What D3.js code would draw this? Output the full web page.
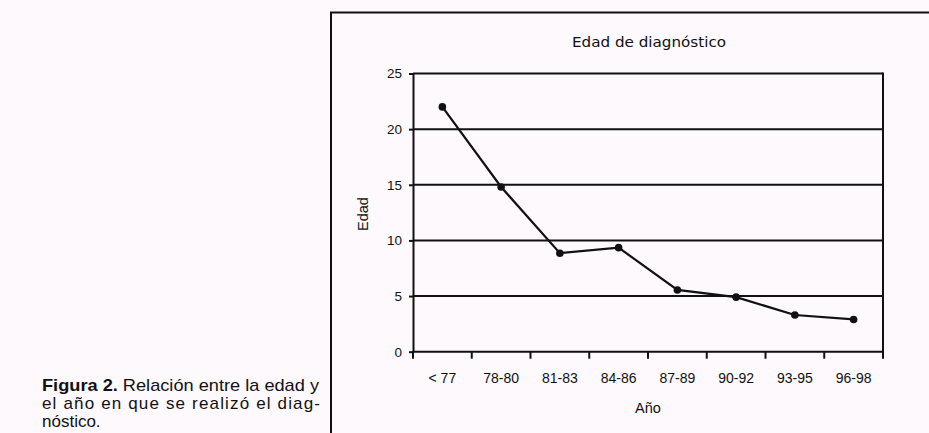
<!DOCTYPE html>
<html>
<head>
<meta charset="utf-8">
<script src="https://cdn.jsdelivr.net/npm/d3@7/dist/d3.min.js"></script>
<style>
  html, body { margin: 0; padding: 0; background: #fdf9fd; }
  svg { display: block; }
</style>
</head>
<body>
<svg id="chart" width="929" height="433"></svg>
<script>
const categories = ["< 77", "78-80", "81-83", "84-86", "87-89", "90-92", "93-95", "96-98"];
const edad = [22, 14.8, 8.85, 9.35, 5.55, 4.9, 3.3, 2.9];
const yTicks = [0, 5, 10, 15, 20, 25];
const title = "Edad de diagnóstico";
const xTitle = "Año";
const yTitle = "Edad";
const captionBold = "Figura 2.";
const captionLine1 = " Relación entre la edad y";
const captionLine2 = "el año en que se realizó el diag-";
const captionLine3 = "nóstico.";

const svg = d3.select("#chart");
const font = "'Liberation Sans', Arial, sans-serif";

// outer frame
svg.append("path")
  .attr("d", "M331,440 L331,12.5 L940,12.5")
  .attr("fill", "none").attr("stroke", "#111").attr("stroke-width", 2);

const pLeft = 413, pRight = 883, pTop = 73.5, pBottom = 351.7;
const x = d3.scaleBand().domain(categories).range([pLeft, pRight]).padding(0);
const y = d3.scaleLinear().domain([0, 25]).range([pBottom, pTop]);

const g = svg.append("g");

// gridlines
g.selectAll("line.grid").data(yTicks.filter(d => d > 0)).join("line")
  .attr("class", "grid")
  .attr("x1", pLeft).attr("x2", pRight)
  .attr("y1", d => y(d)).attr("y2", d => y(d))
  .attr("stroke", "#111").attr("stroke-width", 2);

// right border
g.append("line").attr("x1", pRight).attr("x2", pRight)
  .attr("y1", y(25) - 1).attr("y2", y(0))
  .attr("stroke", "#111").attr("stroke-width", 2);

// y axis
const yAxis = g.append("g").attr("transform", `translate(${pLeft},0)`)
  .call(d3.axisLeft(y).tickValues(yTicks).tickSize(4).tickPadding(7).tickSizeOuter(0));
yAxis.select(".domain").attr("stroke", "#111").attr("stroke-width", 2);
yAxis.selectAll(".tick line").attr("stroke", "#111").attr("stroke-width", 2);
yAxis.selectAll(".tick text").attr("font-family", font).attr("font-size", 13.5).attr("fill", "#111");

// x axis line
g.append("line").attr("x1", pLeft - 1).attr("x2", pRight + 1)
  .attr("y1", y(0)).attr("y2", y(0))
  .attr("stroke", "#111").attr("stroke-width", 2);

// x ticks at band boundaries
const boundaries = categories.map(c => x(c)).concat([x.range()[1]]);
g.selectAll("line.xtick").data(boundaries).join("line")
  .attr("class", "xtick")
  .attr("x1", d => d).attr("x2", d => d)
  .attr("y1", y(0)).attr("y2", y(0) + 7)
  .attr("stroke", "#111").attr("stroke-width", 2);

// x labels
g.selectAll("text.xlab").data(categories).join("text")
  .attr("class", "xlab")
  .attr("x", d => x(d) + x.bandwidth() / 2)
  .attr("y", 383)
  .attr("text-anchor", "middle")
  .attr("font-family", font).attr("font-size", 14)
  .attr("fill", "#111")
  .text(d => d);

// line
const line = d3.line()
  .x((d, i) => x(categories[i]) + x.bandwidth() / 2)
  .y(d => y(d));
g.append("path").datum(edad)
  .attr("d", line)
  .attr("fill", "none").attr("stroke", "#111").attr("stroke-width", 2.2);

g.selectAll("circle.pt").data(edad).join("circle")
  .attr("class", "pt")
  .attr("cx", (d, i) => x(categories[i]) + x.bandwidth() / 2)
  .attr("cy", d => y(d))
  .attr("r", 3.8)
  .attr("fill", "#111");

// titles
svg.append("text")
  .attr("x", 649).attr("y", 47)
  .attr("text-anchor", "middle")
  .attr("font-family", "'DejaVu Sans', Verdana, sans-serif").attr("font-size", 13.5)
  .attr("textLength", 154).attr("lengthAdjust", "spacingAndGlyphs")
  .attr("fill", "#111")
  .text(title);

svg.append("text")
  .attr("x", 648).attr("y", 413)
  .attr("text-anchor", "middle")
  .attr("font-family", font).attr("font-size", 14.5)
  .attr("fill", "#111")
  .text(xTitle);

svg.append("text")
  .attr("transform", "translate(368,214) rotate(-90)")
  .attr("text-anchor", "middle")
  .attr("font-family", font).attr("font-size", 14.5)
  .attr("fill", "#111")
  .text(yTitle);

// caption
const cap = svg.append("g").attr("font-family", font).attr("fill", "#111");
const l1 = cap.append("text").attr("x", 42).attr("y", 391).attr("font-size", 17)
  .attr("textLength", 277).attr("lengthAdjust", "spacingAndGlyphs");
l1.append("tspan").attr("font-weight", "bold").text(captionBold);
l1.append("tspan").text(captionLine1);
cap.append("text").attr("x", 42).attr("y", 409).attr("font-size", 17)
  .attr("textLength", 278).attr("lengthAdjust", "spacing")
  .text(captionLine2);
cap.append("text").attr("x", 42).attr("y", 427).attr("font-size", 17)
  .text(captionLine3);
</script>
</body>
</html>
